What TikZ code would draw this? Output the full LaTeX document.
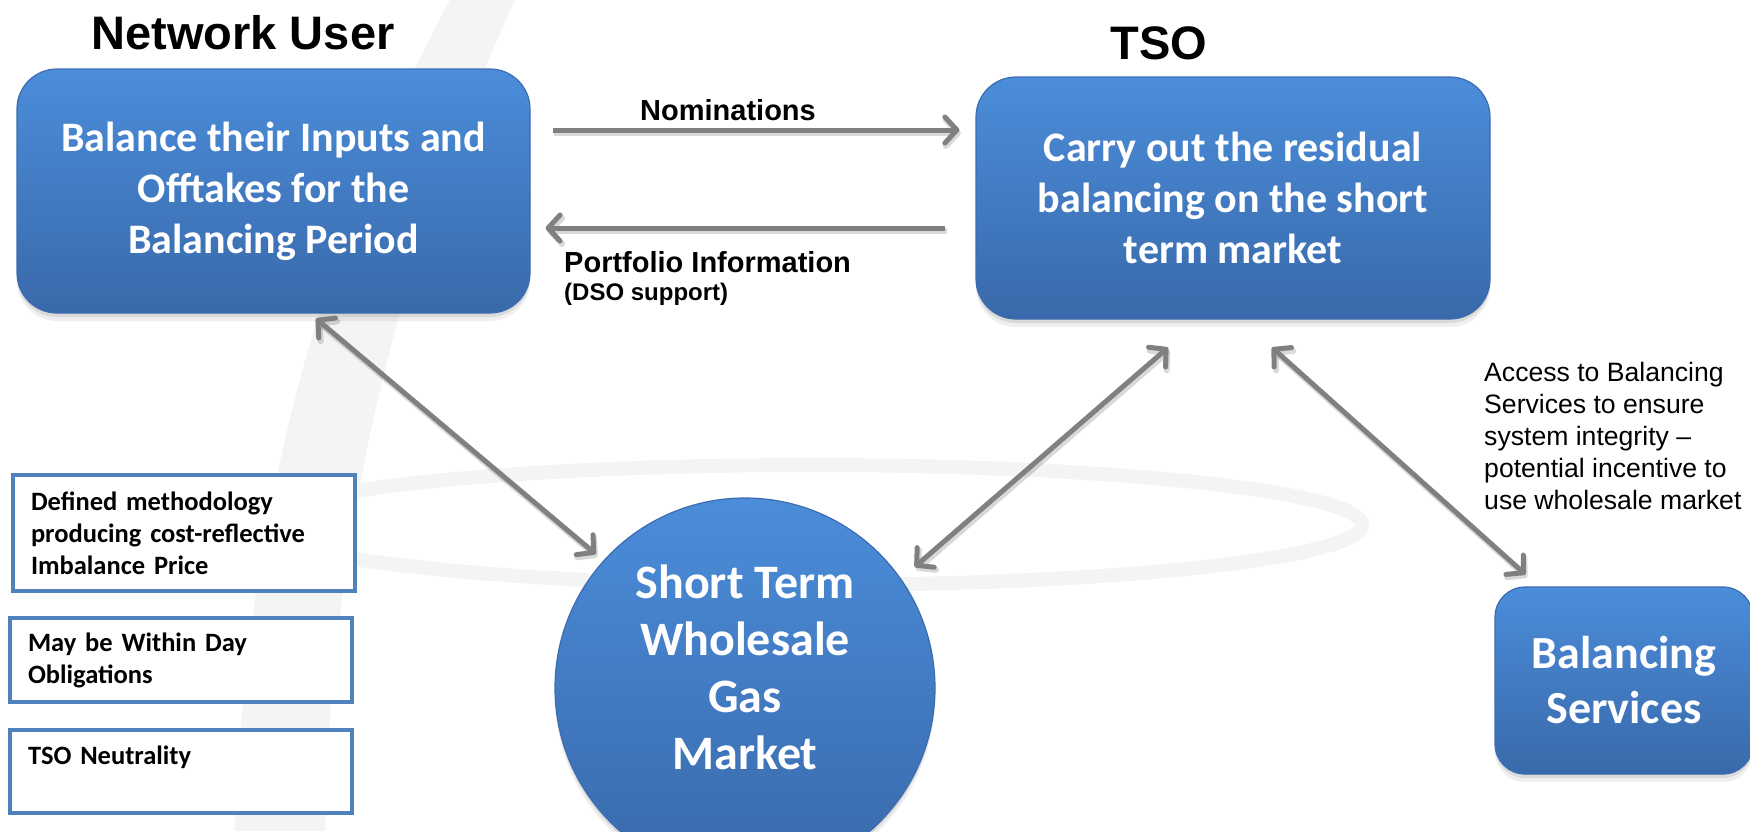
\documentclass[tikz,border=0pt]{standalone}
\usepackage{fontspec}
\setmainfont{Carlito}
\newfontfamily\arialfont{Liberation Sans}
\usetikzlibrary{arrows.meta,shadows}
\definecolor{boxtop}{RGB}{75,141,218}
\definecolor{boxbot}{RGB}{57,105,170}
\definecolor{boxedge}{RGB}{60,108,176}
\definecolor{arrowgrey}{RGB}{128,128,128}
\definecolor{frameblue}{RGB}{79,129,189}
\definecolor{wm}{RGB}{244,244,244}
\begin{document}
\begin{tikzpicture}[x=1pt,y=-1pt,
  bluebox/.style={rectangle, rounded corners=40pt, top color=boxtop, bottom color=boxbot,
    draw=boxedge, line width=1.2pt, text=white, align=center, inner sep=0pt,
    font=\fontsize{42}{51}\selectfont\bfseries,
    drop shadow={opacity=0.12, shadow xshift=0pt, shadow yshift=-8pt},
    drop shadow={opacity=0.18, shadow xshift=0pt, shadow yshift=-4pt}},
  bluecircle/.style={circle, top color=boxtop, bottom color=boxbot, draw=boxedge,
    line width=1.2pt, text=white, align=center, inner sep=0pt, minimum size=380pt,
    font=\fontsize{48}{57}\selectfont\bfseries,
    drop shadow={opacity=0.12, shadow xshift=0pt, shadow yshift=-8pt},
    drop shadow={opacity=0.18, shadow xshift=0pt, shadow yshift=-4pt}},
  leftbox/.style={rectangle, draw=frameblue, line width=4pt, fill=white,
    minimum width=342pt, text width=306pt, align=left, inner xsep=18pt, inner ysep=0pt,
    font=\fontsize{26.5}{32}\selectfont\bfseries},
  title/.style={font=\arialfont\bfseries\fontsize{47}{56}\selectfont, inner sep=0pt},
  lbl/.style={font=\arialfont\bfseries\fontsize{29}{34}\selectfont, inner sep=0pt},
  arrshadow/.style={preaction={draw=black, draw opacity=0.15, line width=6pt,
    transform canvas={shift={(1.5pt,-3pt)}}}},
  conn/.style={draw=arrowgrey, line width=5pt, arrshadow,
    arrows={Straight Barb[length=12pt,width=26pt,round]-Straight Barb[length=12pt,width=26pt,round]}},
  conn1/.style={draw=arrowgrey, line width=5pt, arrshadow,
    arrows={-Straight Barb[length=12pt,width=26pt,round]}}
]
\useasboundingbox (0,0) rectangle (1750,831);
\fill[white] (0,0) rectangle (1750,831);
% watermark
\fill[wm] (450,0) .. controls (320,240) and (245,520) .. (235,831)
   -- (325,831) .. controls (330,540) and (395,260) .. (515,0) -- cycle;
\draw[wm, line width=14pt] (810,525) ellipse [x radius=552, y radius=60];

% titles
\node[title] (nutitle) at (243,33) {Network User};
\node[title] (tsotitle) at (1159,43) {TSO};

% main boxes
\node[bluebox, minimum width=513pt, minimum height=244pt] (nu) at (273.5,191)
  {Balance their Inputs and\\Offtakes for the\\Balancing Period};
\node[bluebox, minimum width=514pt, minimum height=242pt] (tso) at (1233,198)
  {Carry out the residual\\balancing on the short\\term market};
\node[bluecircle] (circ) at (745,688)
  {Short Term\\Wholesale\\Gas\\Market\\[-15pt]\mbox{}};
\node[bluebox, rounded corners=30pt, minimum width=258pt, minimum height=187pt,
  font=\fontsize{46}{55}\selectfont\bfseries] (bs) at (1624,680.5)
  {Balancing\\Services};

% left boxes
\node[leftbox, minimum height=116pt] (lb1) at (184,533)
  {Defined methodology\\producing cost-reflective\\Imbalance Price};
\node[leftbox, minimum height=84pt] (lb2) at (181,660)
  {May be Within Day\\Obligations};
\node[leftbox, minimum height=83pt] (lb3) at (181,771.5)
  {TSO Neutrality\\\mbox{}};

% labels
\node[lbl] (nom) at (728,110) {Nominations};
\node[lbl, anchor=west] (port) at (564,262) {Portfolio Information};
\node[font=\arialfont\bfseries\fontsize{24}{28}\selectfont, inner sep=0pt, anchor=west] (dso) at (564,294) {(DSO support)};
\node[font=\arialfont\fontsize{26.6}{32}\selectfont, inner sep=0pt, anchor=north west, align=left] (acc) at (1484,362)
  {Access to Balancing\\Services to ensure\\system integrity –\\potential incentive to\\use wholesale market};

% connectors
\draw[conn1] ([xshift=22pt,yshift=61pt]nu.east) -- ([xshift=-16pt,yshift=68pt]tso.west);
\draw[conn1] ([xshift=-30pt,yshift=-30pt]tso.west) -- ([xshift=15pt,yshift=-37pt]nu.east);
\draw[conn, shorten >=10pt] ([xshift=42.5pt,yshift=-5pt]nu.south) -- (circ.138);
\draw[conn, shorten <=18pt] (circ.35) -- ([xshift=-65pt,yshift=-28pt]tso.south);
\draw[conn] ([xshift=39pt,yshift=-28pt]tso.south) -- ([xshift=31pt,yshift=12pt]bs.north west);
\end{tikzpicture}
\end{document}
